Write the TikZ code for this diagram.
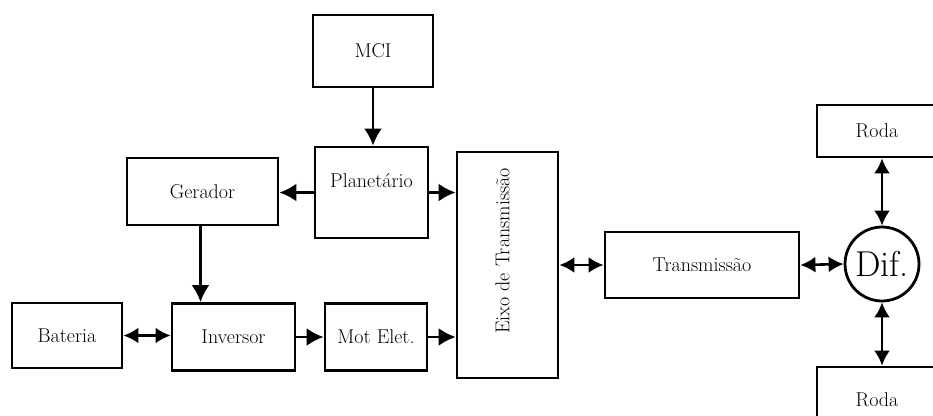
\documentclass[tikz,border=0pt]{standalone}
\usetikzlibrary{arrows.meta,calc}
\begin{document}
\begin{tikzpicture}[x=1pt,y=-1pt,
  txt/.style={font=\fontsize{20}{24}\selectfont},
  box/.style={draw,line width=2.8pt,inner sep=0pt,txt},
  arr/.style={line width=2.6pt,-{Latex[length=17pt,width=18pt]}},
  darr/.style={line width=2.6pt,{Latex[length=15pt,width=16pt]}-{Latex[length=15pt,width=16pt]}}]
\clip (0,0) rectangle (933,415);
\fill[white] (0,0) rectangle (933,415);
\node[box,minimum width=120pt,minimum height=72pt] (mci) at (373,51) {MCI};
\node[box,minimum width=113pt,minimum height=91pt,
  label={[txt,yshift=12pt]center:Planetário}] (plan) at (371.5,192.5) {};
\node[box,minimum width=151pt,minimum height=67pt] (ger) at (202.5,191.5) {Gerador};
\node[box,minimum width=110pt,minimum height=65pt] (bat) at (67,335.5) {Bateria};
\node[box,minimum width=123pt,minimum height=67pt] (inv) at (233.5,337) {Inversor};
\node[box,minimum width=102pt,minimum height=67pt] (mot) at (376,337) {Mot Elet.};
\node[box,minimum width=101pt,minimum height=226pt,
  label={[txt,rotate=90,xshift=14pt,yshift=5pt]center:Eixo de Transmissão}] (eixo) at (507.5,265) {};
\node[box,minimum width=194pt,minimum height=66pt] (trans) at (702,265) {Transmissão};
\node[box,circle,minimum size=74pt,font=\fontsize{36}{40}\selectfont] (dif) at (882,264) {Dif.};
\node[box,minimum width=120pt,minimum height=52pt] (rodat) at (877,131) {Roda};
\node[box,minimum width=120pt,minimum height=66pt] (rodab) at (877,400) {Roda};
\draw[arr] (mci.south) -- (mci.south |- plan.north);
\draw[arr] (plan.west) -- (plan.west -| ger.east);
\draw[arr] (plan.east) -- (plan.east -| eixo.west);
\draw[arr] ($(ger.south)+(-2,0)$) -- ($(ger.south |- inv.north)+(-2,0)$);
\draw[darr] (bat.east) -- (bat.east -| inv.west);
\draw[arr] (inv.east) -- (mot.west);
\draw[arr] (mot.east) -- (mot.east -| eixo.west);
\draw[darr] (eixo.east) -- (trans.west);
\draw[darr] (trans.east) -- (dif.west);
\draw[darr] (dif.north |- rodat.south) -- (dif.north);
\draw[darr] (dif.south) -- (dif.south |- rodab.north);
\end{tikzpicture}
\end{document}
